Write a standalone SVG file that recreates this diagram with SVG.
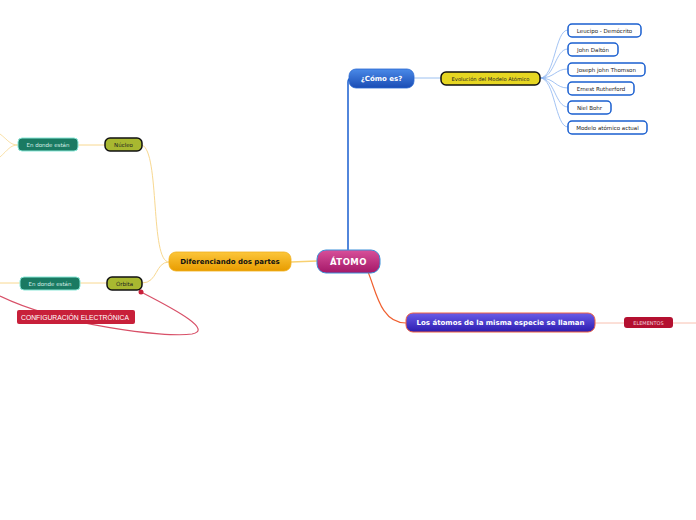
<svg xmlns="http://www.w3.org/2000/svg" width="696" height="520" viewBox="0 0 696 520">
<defs>
<linearGradient id="gPink" x1="0" y1="0" x2="0" y2="1"><stop offset="0" stop-color="#d8509a"/><stop offset="1" stop-color="#a41868"/></linearGradient>
<linearGradient id="gBlue" x1="0" y1="0" x2="0" y2="1"><stop offset="0" stop-color="#4a8ae8"/><stop offset="1" stop-color="#1a4cb4"/></linearGradient>
<linearGradient id="gOrange" x1="0" y1="0" x2="0" y2="1"><stop offset="0" stop-color="#fcc63a"/><stop offset="1" stop-color="#e89c00"/></linearGradient>
<linearGradient id="gPurple" x1="0" y1="0" x2="0" y2="1"><stop offset="0" stop-color="#6a5ce8"/><stop offset="1" stop-color="#2c1cb0"/></linearGradient>
<style>
text{font-family:"DejaVu Sans","Liberation Sans",sans-serif;text-anchor:middle;dominant-baseline:central}
.main{font-size:8px;font-weight:bold;fill:#fff}
.sub{font-size:7px;font-weight:bold}
.small{font-size:5.5px;fill:#222}
.leaf{fill:#fff;stroke:#1a5fd0;stroke-width:1.5}
.olive{fill:#a8b830;stroke:#111;stroke-width:1.5}
.teal{fill:#1a7a62;stroke:#8ae8d8;stroke-width:1}
.c{fill:none}
</style>
</defs>
<g id="connectors">
<path class="c" d="M348,250 L348,82 Q348,78 352,78" stroke="#1a5fd0" stroke-width="1.5"/>
<path class="c" d="M414,78 L441,78" stroke="#9cc0f0" stroke-width="1"/>
<g stroke="#8cb4f0" stroke-width="0.8" fill="none">
<path d="M540,78 C555,78 555,30 568,30"/>
<path d="M540,78 C555,78 555,49 568,49"/>
<path d="M540,78 C555,78 555,69 568,69"/>
<path d="M540,78 C555,78 555,88 568,88"/>
<path d="M540,78 C555,78 555,107 568,107"/>
<path d="M540,78 C555,78 555,127 568,127"/>
</g>
<path class="c" d="M317,261 L291,262" stroke="#f8d070" stroke-width="1.5"/>
<path class="c" d="M368,272 C376,290 380,323 406,323" stroke="#f06030" stroke-width="1.2"/>
<path class="c" d="M595,323 L624,323" stroke="#f8c0b0" stroke-width="1"/>
<path class="c" d="M673,323 L696,323" stroke="#f8c0b0" stroke-width="1"/>
<path class="c" d="M169,262 C150,262 160,152 142,145" stroke="#f8d890" stroke-width="1"/>
<path class="c" d="M169,262 C155,262 158,283 142,283" stroke="#f8d890" stroke-width="1"/>
<path class="c" d="M105,145 L78,145" stroke="#f8d890" stroke-width="1"/>
<path class="c" d="M18,145 C10,145 8,140 0,134 M18,145 C10,145 8,150 0,157" stroke="#f8d890" stroke-width="0.8"/>
<path class="c" d="M107,283 L80,283" stroke="#f8d890" stroke-width="1"/>
<path class="c" d="M20,283 L0,283" stroke="#f8d890" stroke-width="1"/>
<path class="c" d="M141,292 C180,312 212,330 192,334 C165,338 60,325 0,296" stroke="#d85068" stroke-width="1.2"/>
<circle cx="141" cy="292" r="2.5" fill="#c8203a"/>
</g>
<g id="atomo">
<rect x="317" y="250" width="63" height="23" rx="9" fill="url(#gPink)" stroke="#3a8fd8" stroke-width="1"/>
<text class="main" x="348.5" y="262" style="font-size:8.5px;letter-spacing:0.5px">ÁTOMO</text>
</g>
<g id="como-es">
<rect x="349" y="69" width="65" height="19" rx="7" fill="url(#gBlue)" stroke="#2a68d0" stroke-width="0.8"/>
<text class="main" x="381.5" y="79" style="font-size:7px">¿Cómo es?</text>
</g>
<g id="evolucion">
<rect x="441" y="72" width="99" height="13" rx="5" fill="#e6d622" stroke="#111" stroke-width="1.5"/>
<text class="small" x="490.5" y="78.5" style="font-size:5.2px">Evolución del Modelo Atómico</text>
</g>
<g id="leucipo"><rect class="leaf" x="568" y="24" width="73" height="13" rx="4"/><text class="small" x="604.5" y="30.5">Leucipo - Demócrito</text></g>
<g id="dalton"><rect class="leaf" x="568" y="43" width="50" height="13" rx="4"/><text class="small" x="593" y="49.5">John Daltón</text></g>
<g id="thomson"><rect class="leaf" x="568" y="63" width="77" height="13" rx="4"/><text class="small" x="606.5" y="69.5">Joseph john Thomson</text></g>
<g id="rutherford"><rect class="leaf" x="568" y="82" width="66" height="13" rx="4"/><text class="small" x="601" y="88.5">Ernest Rutherford</text></g>
<g id="bohr"><rect class="leaf" x="568" y="101" width="43" height="13" rx="4"/><text class="small" x="589.5" y="107.5">Niel Bohr</text></g>
<g id="actual"><rect class="leaf" x="568" y="121" width="79" height="13" rx="4"/><text class="small" x="607.5" y="127.5">Modelo atómico actual</text></g>
<g id="diferenciando">
<rect x="169" y="252" width="122" height="19" rx="7" fill="url(#gOrange)" stroke="#f0b020" stroke-width="0.8"/>
<text class="sub" x="230" y="262" fill="#111">Diferenciando dos partes</text>
</g>
<g id="nucleo"><rect class="olive" x="105" y="138" width="37" height="13" rx="5"/><text class="small" x="123.5" y="144.5">Núcleo</text></g>
<g id="donde1"><rect class="teal" x="18" y="138" width="60" height="13" rx="4"/><text class="small" x="48" y="144.5" style="fill:#d8f0e8">En donde están</text></g>
<g id="orbita"><rect class="olive" x="107" y="277" width="35" height="13" rx="5"/><text class="small" x="124.5" y="283.5">Órbita</text></g>
<g id="donde2"><rect class="teal" x="20" y="277" width="60" height="13" rx="4"/><text class="small" x="50" y="283.5" style="fill:#d8f0e8">En donde están</text></g>
<g id="configuracion">
<rect x="17" y="310" width="118" height="14" rx="2" fill="#c8203a"/>
<text x="75" y="317" style="font-size:6.8px;fill:#fff;font-family:'Liberation Sans',sans-serif">CONFIGURACIÓN ELECTRÓNICA</text>
</g>
<g id="mismaespecie">
<rect x="406" y="313" width="189" height="19" rx="7" fill="url(#gPurple)" stroke="#f06040" stroke-width="1"/>
<text class="main" x="500.5" y="323" style="font-size:7px">Los átomos de la misma especie se llaman</text>
</g>
<g id="elementos">
<rect x="624" y="317" width="49" height="11" rx="3" fill="#b41030"/>
<text x="648.5" y="322.7" style="font-size:5px;fill:#f0d0d8">ELEMENTOS</text>
</g>
</svg>
